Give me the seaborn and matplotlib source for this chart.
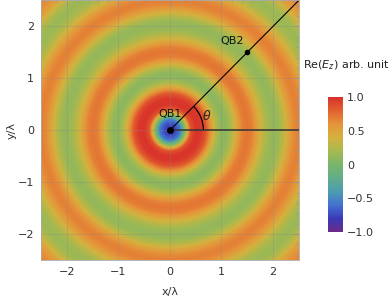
import numpy as np
import matplotlib
matplotlib.use("Agg")
import matplotlib.pyplot as plt
from matplotlib.patches import Arc
import seaborn as sns

# radial profile of Re(E_z) (r in units of lambda)
radius = [0.0, 0.1, 0.2, 0.3, 0.4, 0.5, 0.6, 0.7, 0.8, 0.9,
          1.0, 1.1, 1.2, 1.3, 1.4, 1.5, 1.6, 1.7, 1.8, 1.9,
          2.0, 2.1, 2.2, 2.3, 2.4, 2.5, 2.6, 2.7, 2.8, 2.9,
          3.0, 3.1, 3.2, 3.3, 3.4, 3.5, 3.6]
re_ez = [-0.8, -0.76, -0.56, 0.15, 0.85, 0.98, 0.97, 0.85, 0.55, 0.25,
         0.1, 0.1, 0.24, 0.48, 0.67, 0.72, 0.67, 0.5, 0.32, 0.18,
         0.12, 0.14, 0.28, 0.48, 0.63, 0.68, 0.63, 0.5, 0.33, 0.2,
         0.15, 0.17, 0.3, 0.48, 0.6, 0.65, 0.6]

qb1 = (0.0, 0.0)
qb2 = (1.5, 1.5)
ticks = [-2, -1, 0, 1, 2]
cbar_ticks = [-1.0, -0.5, 0, 0.5, 1.0]
cbar_labels = ["\u22121.0", "\u22120.5", "0", "0.5", "1.0"]

sns.set_theme(style="white")
plt.rcParams["font.family"] = ["DejaVu Sans"]

rainbow = sns.blend_palette(["#6b2a86", "#3b3ab8", "#4372d0", "#4c9cb0", "#62ad8a",
                             "#78b56c", "#a6b94f", "#d4b23e", "#e5943a", "#e2622f",
                             "#d8302a"], as_cmap=True)

xs = np.linspace(-2.5, 2.5, 400)
X, Y = np.meshgrid(xs, xs)
field = np.interp(np.hypot(X, Y), radius, re_ez)

fig = plt.figure(figsize=(3.92, 3.05), dpi=100)
ax = fig.add_axes([0.105, 0.1475, 0.657, 0.851])
im = ax.imshow(field, extent=[-2.5, 2.5, -2.5, 2.5], origin="lower",
               cmap=rainbow, vmin=-1, vmax=1, aspect="auto", interpolation="bilinear")

for t in ticks:
    ax.axvline(t, color="#888888", lw=0.6, alpha=0.35)
    ax.axhline(t, color="#888888", lw=0.6, alpha=0.35)

# lines from QB1
ax.plot([qb1[0], 2.5], [qb1[1], qb1[1]], color="#333333", lw=1.1)
ax.plot([qb1[0], 2.5], [qb1[1], 2.5], color="black", lw=0.8)
ax.add_patch(Arc(qb1, 1.3, 1.3, theta1=0, theta2=45, color="black", lw=0.9))
ax.plot(*qb1, "o", color="black", ms=4)
ax.plot(*qb2, "o", color="black", ms=3)
ax.text(0.0, 0.32, "QB1", fontsize=8, ha="center", va="center", color="#111111")
ax.text(1.2, 1.72, "QB2", fontsize=8, ha="center", va="center", color="#111111")
ax.text(0.72, 0.28, r"$\theta$", fontsize=9, ha="center", va="center")

ax.set_xlim(-2.5, 2.5)
ax.set_ylim(-2.5, 2.5)
ax.set_xticks(ticks)
ax.set_yticks(ticks)
ax.set_xticklabels([str(t).replace("-", "\u2212") for t in ticks])
ax.set_yticklabels([str(t).replace("-", "\u2212") for t in ticks])
ax.set_xticks(np.arange(-2.4, 2.5, 0.2), minor=True)
ax.set_yticks(np.arange(-2.4, 2.5, 0.2), minor=True)
ax.tick_params(which="both", direction="in", top=True, right=True, colors="#999999",
               labelcolor="#333333", labelsize=8)
ax.tick_params(which="major", length=4, width=0.6, pad=5)
ax.tick_params(which="minor", length=2, width=0.5)
for s in ax.spines.values():
    s.set_color("#aaaaaa")
    s.set_linewidth(0.6)
ax.set_xlabel("x/\u03bb", fontsize=8, color="#333333", labelpad=7)
ax.set_ylabel("y/\u03bb", fontsize=8, color="#333333", labelpad=1)

cax = fig.add_axes([0.837, 0.239, 0.038, 0.443])
cb = fig.colorbar(im, cax=cax, ticks=cbar_ticks)
cb.set_ticklabels(cbar_labels)
cb.outline.set_visible(False)
cax.tick_params(length=0, labelsize=8, labelcolor="#333333", pad=3)
fig.text(0.773, 0.787, "Re($E_z$) arb. unit", fontsize=8, color="#222222", va="center")

fig.savefig("out.png", dpi=100)
